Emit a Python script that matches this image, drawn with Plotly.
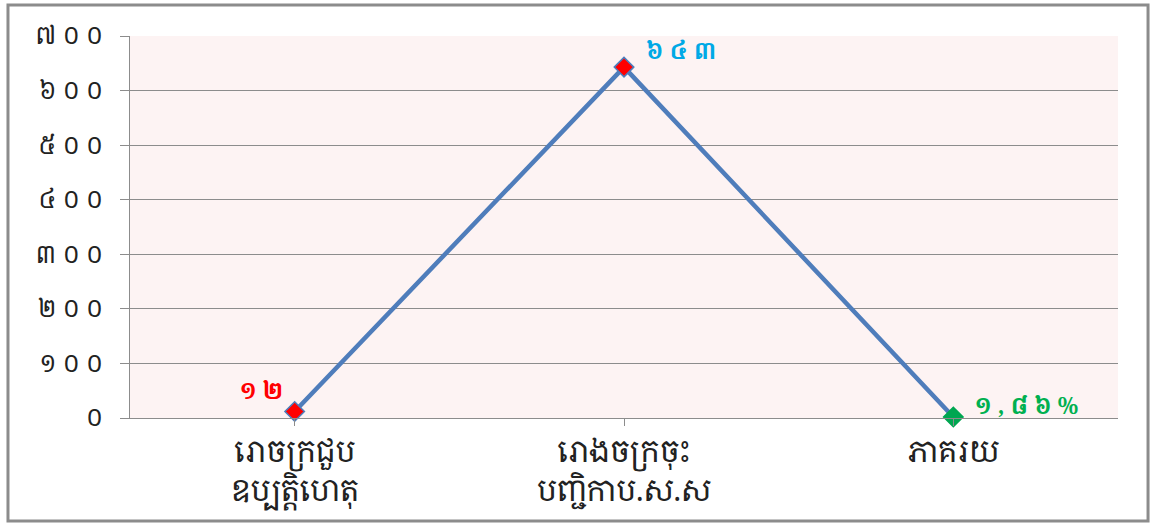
import plotly.graph_objects as go

categories = ["រោចក្រជួប<br>ឧប្បត្តិហេតុ", "រោងចក្រចុះ<br>បញ្ជិកាប.ស.ស", "ភាគរយ"]
values = [12, 643, 1.86]
value_labels = ["១ ២", "៦ ៤ ៣", "១ , ៨ ៦ %"]
label_colors = ["#ff0000", "#00a9e6", "#00b050"]
marker_colors = ["#ff0000", "#ff0000", "#00a651"]
y_tickvals = [0, 100, 200, 300, 400, 500, 600, 700]
y_ticktext = ["០", "១ ០ ០", "២ ០ ០", "៣ ០ ០", "៤ ០ ០", "៥ ០ ០", "៦ ០ ០", "៧ ០ ០"]

# label placement relative to each point (pixels)
label_xanchor = ["right", "left", "left"]
label_xshift = [-10, 20, 20]
label_yshift = [21, 17, 12]

FONT = "Khmer OS Battambang, Khmer OS, Noto Serif Khmer, Noto Sans Khmer, Hanuman, sans-serif"
cats_x = [0, 1, 2]

fig = go.Figure()
fig.add_trace(go.Scatter(
    x=cats_x, y=values,
    mode="lines+markers",
    line=dict(color="#4f7dbb", width=4.5),
    marker=dict(symbol="diamond", size=15, color=marker_colors,
                line=dict(color=["#4f7dbb", "#4f7dbb", "#00a651"], width=1.5)),
    cliponaxis=False,
    hoverinfo="skip",
))

for xi, yi, t, c, xa, xs, ys in zip(cats_x, values, value_labels, label_colors,
                                    label_xanchor, label_xshift, label_yshift):
    fig.add_annotation(x=xi, y=yi, text="<b>%s</b>" % t, showarrow=False,
                       xanchor=xa, yanchor="middle", xshift=xs, yshift=ys,
                       font=dict(family=FONT, size=23, color=c))

fig.update_layout(
    width=1154, height=523,
    margin=dict(l=130, r=36, t=36, b=105),
    paper_bgcolor="white",
    plot_bgcolor="#fdf3f3",
    showlegend=False,
    font=dict(family=FONT, color="#222222"),
    xaxis=dict(
        tickmode="array", tickvals=cats_x, ticktext=categories,
        range=[-0.5, 2.5], showgrid=False, zeroline=False,
        showline=True, linecolor="#8c8c8c", linewidth=1,
        ticks="outside", ticklen=7, tickcolor="#8c8c8c",
        tickfont=dict(family=FONT, size=30, color="#222222"),
        fixedrange=True,
    ),
    yaxis=dict(
        tickmode="array", tickvals=y_tickvals, ticktext=y_ticktext,
        range=[0, 700], showgrid=True, gridcolor="#8c8c8c", gridwidth=1,
        zeroline=False, showline=True, linecolor="#8c8c8c", linewidth=1,
        ticks="outside", ticklen=9, tickcolor="#8c8c8c",
        ticklabelstandoff=12,
        tickfont=dict(family=FONT, size=24, color="#222222"),
        fixedrange=True,
    ),
    shapes=[dict(type="rect", xref="paper", yref="paper",
                 x0=-0.1235, x1=1.0304, y0=-0.2696, y1=1.0812,
                 line=dict(color="#8c8c8c", width=3), fillcolor="rgba(0,0,0,0)",
                 layer="below")],
)

fig.write_html("out.html", config={"displayModeBar": False},
               post_script="document.body.style.margin='0';")
